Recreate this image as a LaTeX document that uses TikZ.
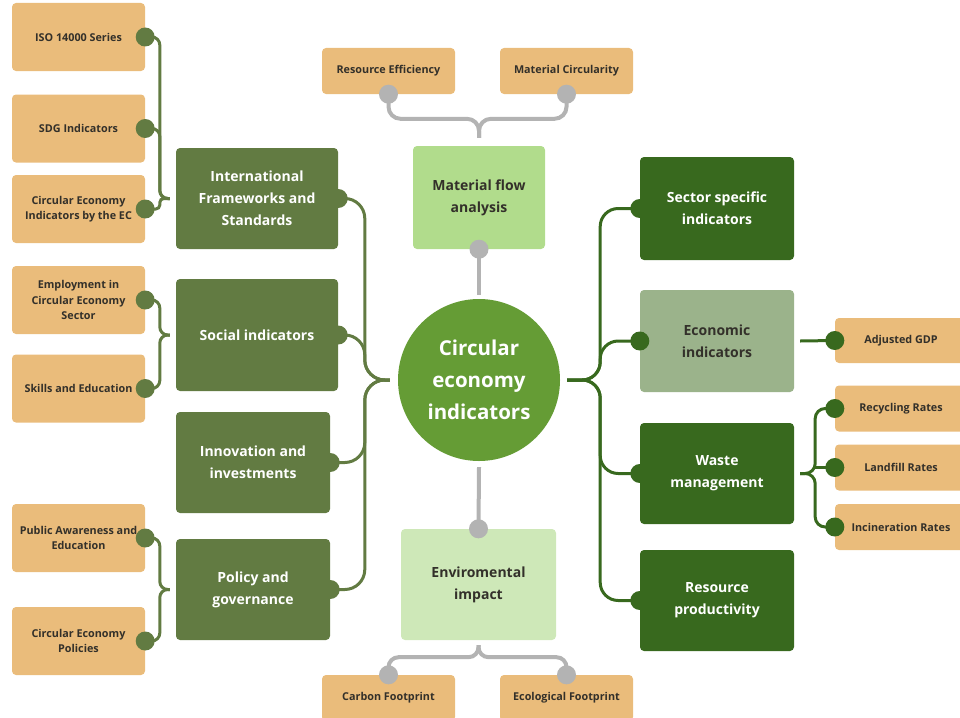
\documentclass[tikz,border=0pt]{standalone}
\usepackage{fontspec}
\setmainfont{Open Sans}
\usepackage{tikz}
\usetikzlibrary{positioning}
\definecolor{boxorange}{HTML}{EABC7B}
\definecolor{olive}{HTML}{627B42}
\definecolor{forest}{HTML}{38691E}
\definecolor{sage}{HTML}{9BB38B}
\definecolor{hub}{HTML}{659C35}
\definecolor{mint}{HTML}{B1DC8C}
\definecolor{pale}{HTML}{CEE8B8}
\definecolor{stone}{HTML}{B3B3B3}
\definecolor{ink}{HTML}{33302A}

\begin{document}
\begin{tikzpicture}[x=1pt,y=-1pt,
	leaf/.style={shape=rectangle, rounded corners=4pt, fill=boxorange, text=ink, inner sep=0pt, align=center,
		font=\bfseries\fontsize{10.8}{15.5}\selectfont, minimum width=133pt, minimum height=68pt},
	branch/.style={shape=rectangle, rounded corners=4pt, fill=olive, text=white, inner sep=0pt, align=center,
		font=\bfseries\fontsize{14}{22}\selectfont, minimum width=162pt, minimum height=101pt},
	olivelink/.style={draw=olive, line width=3pt},
	forestlink/.style={draw=forest, line width=3pt},
	stonelink/.style={draw=stone, line width=4pt}]
	\useasboundingbox (0,0) rectangle (960,717);
	\path (78.5,37) node (iso) [leaf] {ISO 14000 Series}
		  (78.5,128.5) node (sdg) [leaf] {SDG Indicators}
		  (78.5,209) node (ceec) [leaf] {Circular Economy\\Indicators by the EC}
		  (78.5,300) node (empl) [leaf] {Employment in\\Circular Economy\\Sector}
		  (78.5,388.5) node (skills) [leaf] {Skills and Education}
		  (78.5,538) node (public) [leaf] {Public Awareness and\\Education}
		  (78.5,641) node (cepol) [leaf] {Circular Economy\\Policies};
	\path (257,198.5) node (intl) [branch] {International\\Frameworks and\\Standards}
		  (257,335) node (social) [branch, minimum height=112pt] {Social indicators}
		  (253,462.5) node (innov) [branch, minimum width=154pt] {Innovation and\\investments}
		  (253,589.5) node (policy) [branch, minimum width=154pt] {Policy and\\governance};
	\path (479,380) node (hubc) [shape=circle, fill=hub, text=white, inner sep=0pt, minimum size=162pt, align=center,
			font=\bfseries\fontsize{20.5}{32}\selectfont] {Circular\\economy\\indicators}
		  (479,197.5) node (mfa) [branch, fill=mint, text=ink, minimum width=132pt, minimum height=103pt] {Material flow\\analysis}
		  (478.5,584.5) node (env) [branch, fill=pale, text=ink, minimum width=155pt, minimum height=111pt] {Enviromental\\impact}
		  (388.5,71) node (reseff) [leaf, minimum height=46pt] {Resource Efficiency}
		  (566.5,71) node (matcirc) [leaf, minimum height=46pt] {Material Circularity}
		  (388.5,698) node (carbon) [leaf, minimum height=46pt] {Carbon Footprint}
		  (566.5,698) node (ecol) [leaf, minimum height=46pt] {Ecological Footprint};
	\path (717,208.5) node (sector) [branch, fill=forest, minimum width=154pt, minimum height=103pt] {Sector specific\\indicators}
		  (717,341) node (econ) [branch, fill=sage, text=ink, minimum width=154pt, minimum height=102pt] {Economic\\indicators}
		  (717,473.5) node (waste) [branch, fill=forest, minimum width=154pt] {Waste\\management}
		  (717,600.5) node (resprod) [branch, fill=forest, minimum width=154pt] {Resource\\productivity}
		  (901,340.5) node (gdp) [leaf, minimum width=132pt, minimum height=45pt] {Adjusted GDP}
		  (901,408.5) node (recyc) [leaf, minimum width=132pt, minimum height=46pt] {Recycling Rates}
		  (901,467.5) node (landfill) [leaf, minimum width=132pt, minimum height=46pt] {Landfill Rates}
		  (901,527) node (incin) [leaf, minimum width=132pt, minimum height=46pt] {Incineration Rates};
	\coordinate (tipI) at ([xshift=-6pt]intl.west);
	\coordinate (tipS) at ([xshift=-6pt]social.west);
	\coordinate (tipP) at ([xshift=-6pt]policy.west);
	\coordinate (tipL) at ([xshift=-8pt]hubc.west);
	\coordinate (tipR) at ([xshift=7pt]hubc.east);
	\coordinate (tipW) at ([xshift=6pt]waste.east);
	\coordinate (tipT) at ([yshift=8pt]mfa.north);
	\coordinate (tipB) at ([yshift=-5pt]env.south);
	\coordinate (mfaend) at ([yshift=4pt]hubc.north);
	\coordinate (envend) at ([yshift=-6pt]hubc.south);
	\coordinate (gdpend) at ([xshift=6pt]econ.east);
	\coordinate (landend) at ([xshift=-20pt]landfill.west);
	\draw[olivelink, rounded corners=8pt] (iso.east) -| ([xshift=-10pt]tipI) -- (tipI);
	\draw[olivelink, rounded corners=8pt] (sdg.east) -| ([xshift=-10pt]tipI) -- (tipI);
	\draw[olivelink, rounded corners=4pt] (ceec.east) -| ([xshift=-10pt]tipI) -- (tipI);
	\draw[olivelink, rounded corners=8pt] (empl.east) -| ([xshift=-10pt]tipS) -- (tipS);
	\draw[olivelink, rounded corners=8pt] (skills.east) -| ([xshift=-10pt]tipS) -- (tipS);
	\draw[olivelink, rounded corners=8pt] (public.east) -| ([xshift=-10pt]tipP) -- (tipP);
	\draw[olivelink, rounded corners=8pt] (cepol.east) -| ([xshift=-10pt]tipP) -- (tipP);
	\draw[olivelink, rounded corners=20pt] (intl.east) -| ([xshift=-25pt]tipL) -- (tipL);
	\draw[olivelink, rounded corners=20pt] (social.east) -| ([xshift=-25pt]tipL) -- (tipL);
	\draw[olivelink, rounded corners=20pt] (innov.east) -| ([xshift=-25pt]tipL) -- (tipL);
	\draw[olivelink, rounded corners=20pt] (policy.east) -| ([xshift=-25pt]tipL) -- (tipL);
	\draw[forestlink, rounded corners=18pt] (sector.west) -| ([xshift=33pt]tipR) -- (tipR);
	\draw[forestlink, rounded corners=18pt] (econ.west) -| ([xshift=33pt]tipR) -- (tipR);
	\draw[forestlink, rounded corners=18pt] (waste.west) -| ([xshift=33pt]tipR) -- (tipR);
	\draw[forestlink, rounded corners=18pt] (resprod.west) -| ([xshift=33pt]tipR) -- (tipR);
	\draw[forestlink] (gdpend) -- (gdp.west);
	\draw[forestlink, rounded corners=10pt] (recyc.west) -| ([xshift=15pt]tipW) -- (tipW);
	\draw[forestlink, rounded corners=10pt] (incin.west) -| ([xshift=15pt]tipW) -- (tipW);
	\draw[forestlink] (landend) -- (landfill.west);
	\draw[stonelink, rounded corners=12pt] (reseff.south) |- ([yshift=19pt]tipT) -- (tipT);
	\draw[stonelink, rounded corners=12pt] (matcirc.south) |- ([yshift=19pt]tipT) -- (tipT);
	\draw[stonelink, rounded corners=10pt] (carbon.north) |- ([yshift=-12pt]tipB) -- (tipB);
	\draw[stonelink, rounded corners=10pt] (ecol.north) |- ([yshift=-12pt]tipB) -- (tipB);
	\draw[stonelink] (mfa.south) -- (mfaend);
	\draw[stonelink] (env.north) -- (envend);
	\foreach \n in {iso,sdg,ceec,empl,skills,public,cepol,intl,social,innov,policy}
		\fill[olive] (\n.east) circle (9.5pt);
	\foreach \n in {sector,econ,waste,resprod,gdp,recyc,landfill,incin}
		\fill[forest] (\n.west) circle (9.5pt);
	\foreach \n in {reseff,matcirc,mfa}
		\fill[stone] (\n.south) circle (9.5pt);
	\foreach \n in {env,carbon,ecol}
		\fill[stone] (\n.north) circle (9.5pt);
\end{tikzpicture}
\end{document}
